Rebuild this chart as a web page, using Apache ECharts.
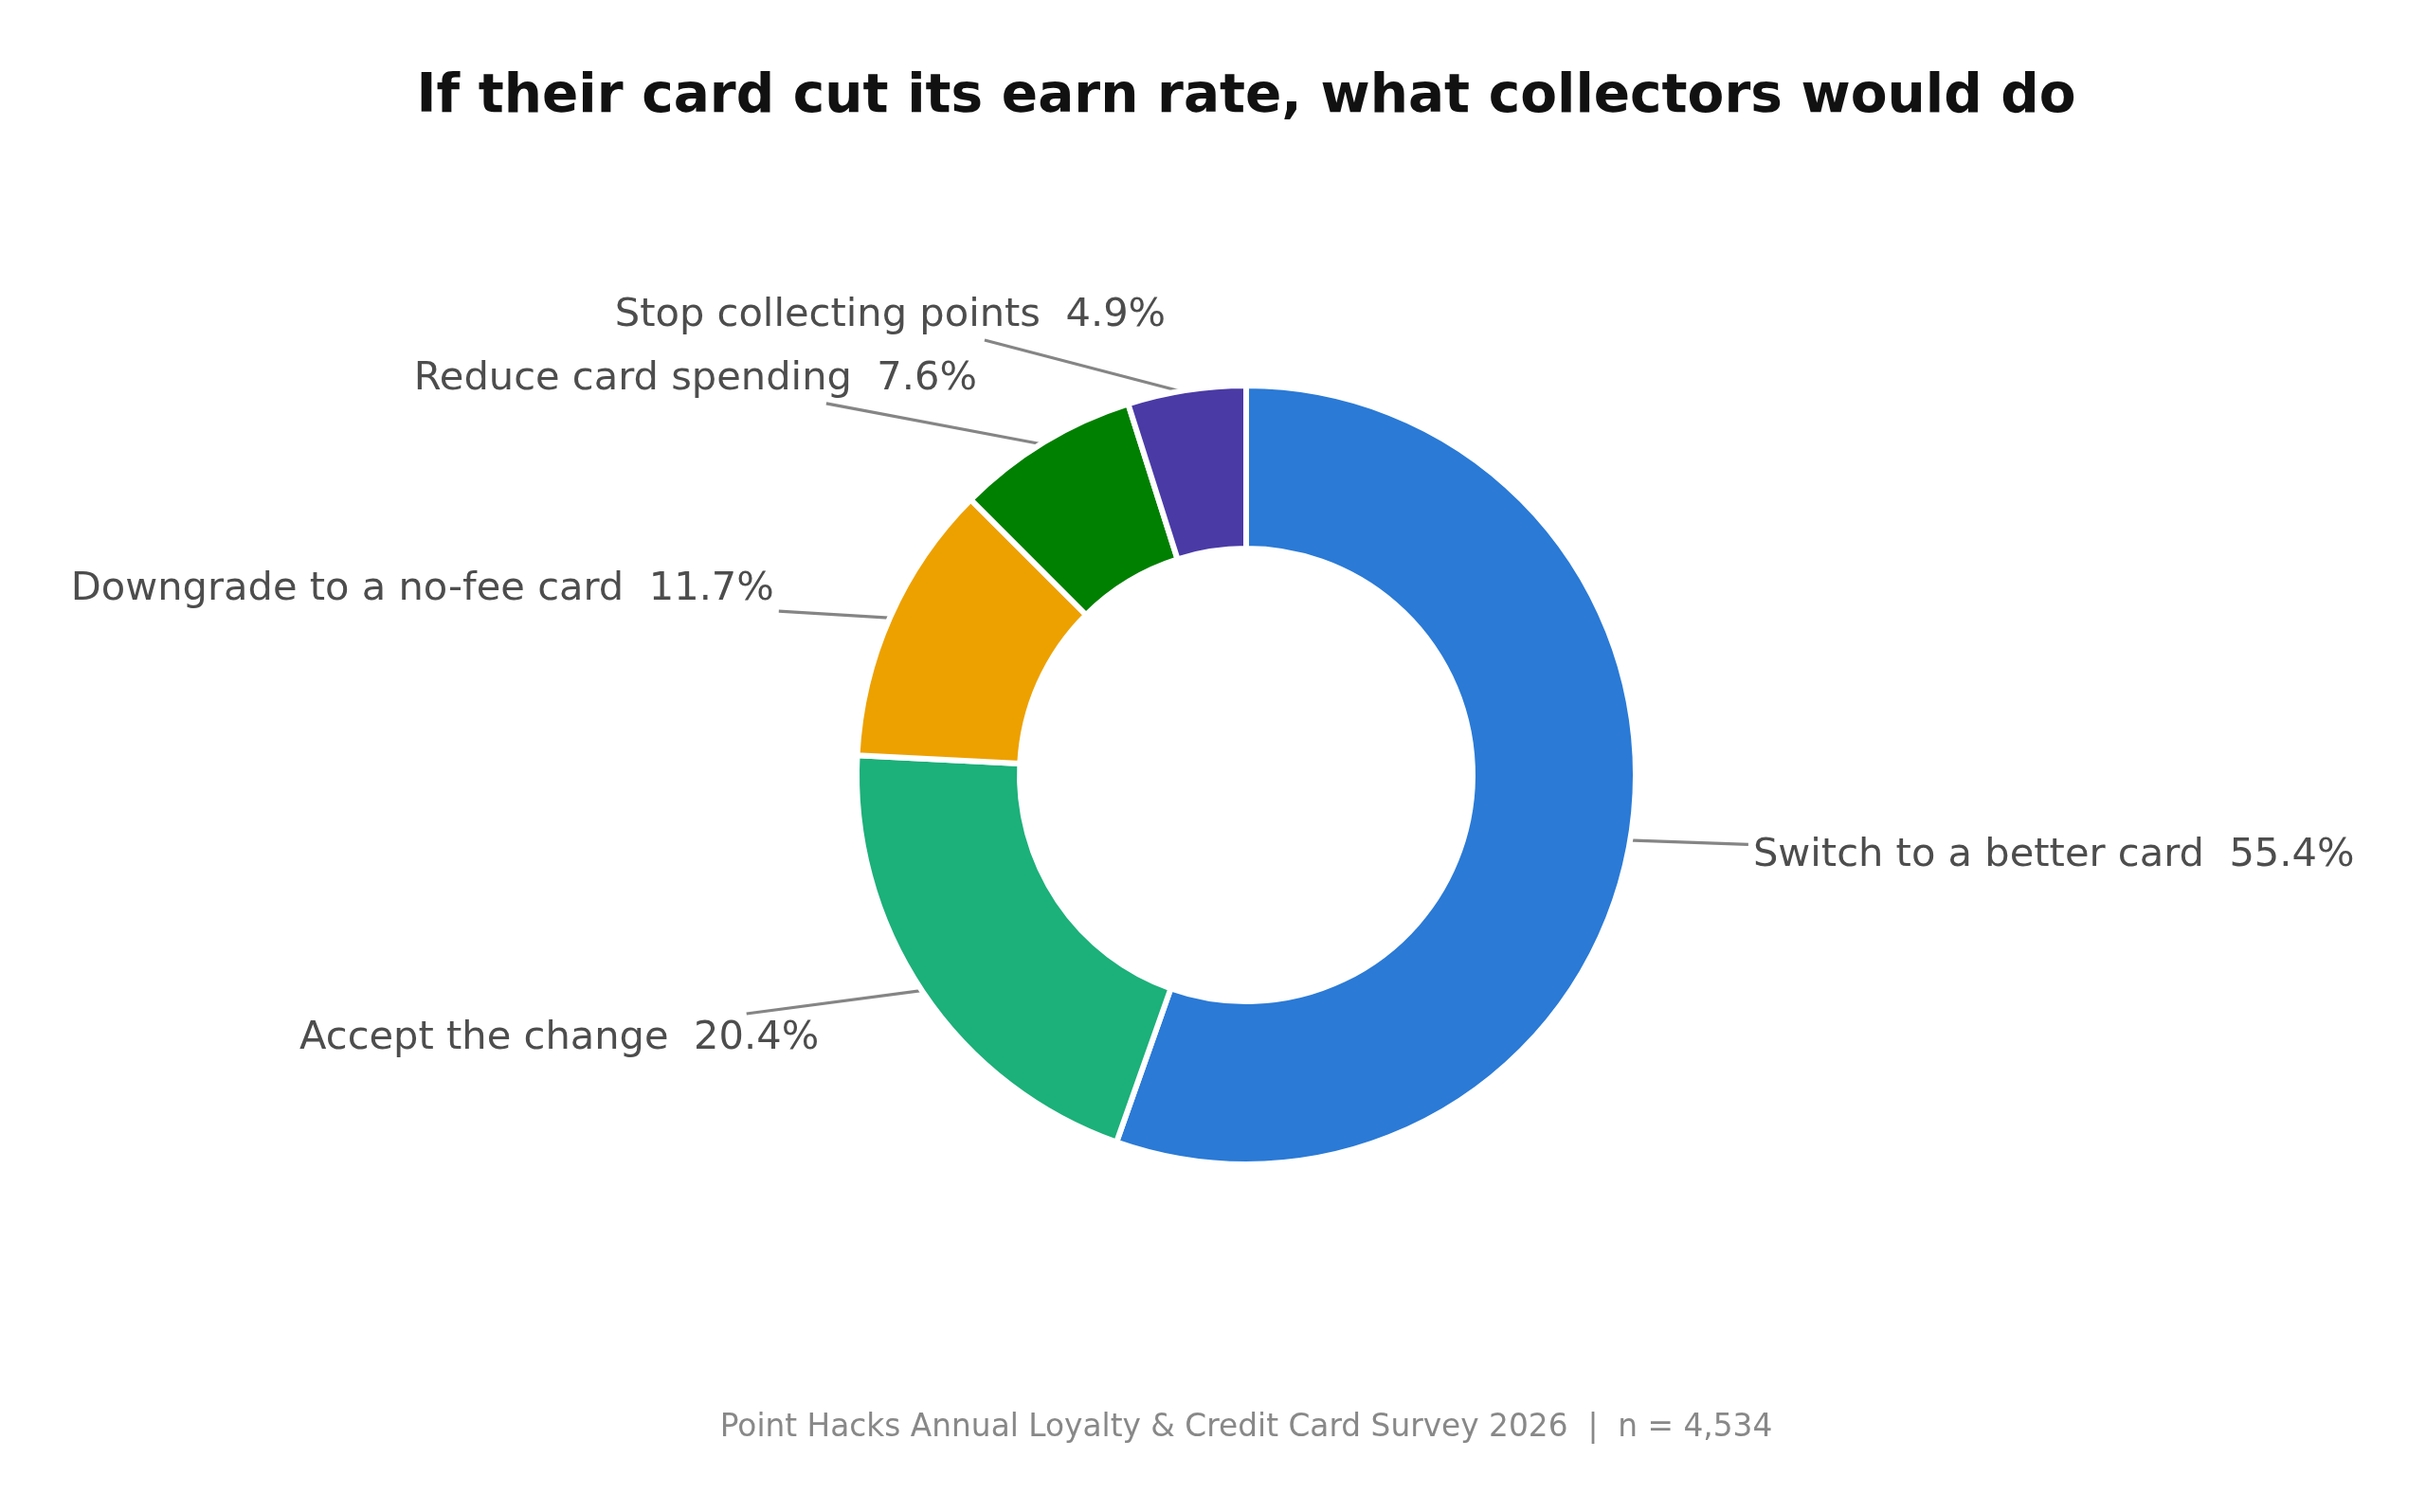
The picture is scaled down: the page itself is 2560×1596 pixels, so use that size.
<!DOCTYPE html>
<html>
<head>
<meta charset="utf-8">
<title>Earn rate cut - collector reactions</title>
<script src="https://cdn.jsdelivr.net/npm/echarts@6/dist/echarts.min.js"></script>
<style>
  html, body { margin: 0; padding: 0; background: #fff; }
  #chart { width: 2560px; height: 1596px; }
</style>
</head>
<body>
<div id="chart"></div>
<script>
// survey answers, clockwise from 12 o'clock
var categories = ['Switch to a better card', 'Accept the change', 'Downgrade to a no-fee card', 'Reduce card spending', 'Stop collecting points'];
var shares = [55.4, 20.4, 11.7, 7.6, 4.9];
var colors = ['#2a7ad6', '#1cb07a', '#eda100', '#008000', '#4a3aa6'];

var TITLE = 'If their card cut its earn rate, what collectors would do';
var SOURCE = 'Point Hacks Annual Loyalty & Credit Card Survey 2026  |  n = 4,534';

// layout (px)
var CX = 1315, CY = 818;
var R_OUT = 411, R_IN = 239;
var R_EDGE = 408; // visible outer edge, leader lines start here
// where each label sits, in radius units from the centre (edge of text nearest the ring)
var labelOffsets = [[1.311, 0.201], [-1.105, 0.674], [-1.221, -0.488], [-0.696, -1.032], [-0.208, -1.196]];
var LABEL_NUDGE_Y = 3;
var LINE_PAD = 5;

function midAngle(i) { // radians, clockwise from top
  var total = 0, before = 0;
  for (var k = 0; k < shares.length; k++) {
    total += shares[k];
    if (k < i) before += shares[k];
  }
  return (before + shares[i] / 2) / total * Math.PI * 2;
}

var chart = echarts.init(document.getElementById('chart'), null, { renderer: 'canvas' });

var pieData = [];
for (var i = 0; i < categories.length; i++) {
  pieData.push({ name: categories[i], value: shares[i], itemStyle: { color: colors[i] } });
}

var option = {
  animation: false,
  backgroundColor: '#ffffff',
  graphic: [
    {
      type: 'text', x: CX, y: 103,
      style: {
        text: TITLE, fontFamily: 'DejaVu Sans', fontWeight: 'bold', fontSize: 56.5,
        fill: '#111111', align: 'center', verticalAlign: 'middle'
      }
    },
    {
      type: 'text', x: CX, y: 1507,
      style: {
        text: SOURCE, fontFamily: 'DejaVu Sans', fontSize: 32.8,
        fill: '#888888', align: 'center', verticalAlign: 'middle'
      }
    }
  ],
  series: [{
    type: 'pie',
    center: [CX, CY],
    radius: [R_IN, R_OUT],
    startAngle: 90,
    clockwise: true,
    avoidLabelOverlap: false,
    silent: true,
    itemStyle: { borderColor: '#ffffff', borderWidth: 6 },
    label: {
      show: true,
      position: 'outside',
      fontFamily: 'DejaVu Sans',
      fontSize: 41.6,
      color: '#4d4d4d',
      padding: 0,
      formatter: function (p) { return p.name + '  ' + p.value.toFixed(1) + '%'; }
    },
    labelLine: {
      show: true,
      smooth: false,
      lineStyle: { color: '#858585', width: 3.2 }
    },
    labelLayout: function (p) {
      var i = p.dataIndex;
      var off = labelOffsets[i];
      var right = off[0] > 0;
      var ax = CX + off[0] * R_EDGE, ay = CY + off[1] * R_EDGE + LABEL_NUDGE_Y;
      var w = p.labelRect.width, h = p.labelRect.height;
      var tcx = right ? ax + w / 2 : ax - w / 2, tcy = ay;
      var a = midAngle(i);
      var sx = CX + R_EDGE * Math.sin(a), sy = CY - R_EDGE * Math.cos(a);
      // line from slice towards text centre, cut at the padded text box
      var dx = sx - tcx, dy = sy - tcy;
      var hw = w / 2 + LINE_PAD, hh = h / 2 + LINE_PAD;
      var t = Math.min(hw / Math.max(Math.abs(dx), 1e-6), hh / Math.max(Math.abs(dy), 1e-6));
      return {
        x: ax, y: ay,
        align: right ? 'left' : 'right',
        verticalAlign: 'middle',
        labelLinePoints: [[sx, sy], [tcx + dx * t, tcy + dy * t]]
      };
    },
    data: pieData
  }]
};

chart.setOption(option);
</script>
</body>
</html>
